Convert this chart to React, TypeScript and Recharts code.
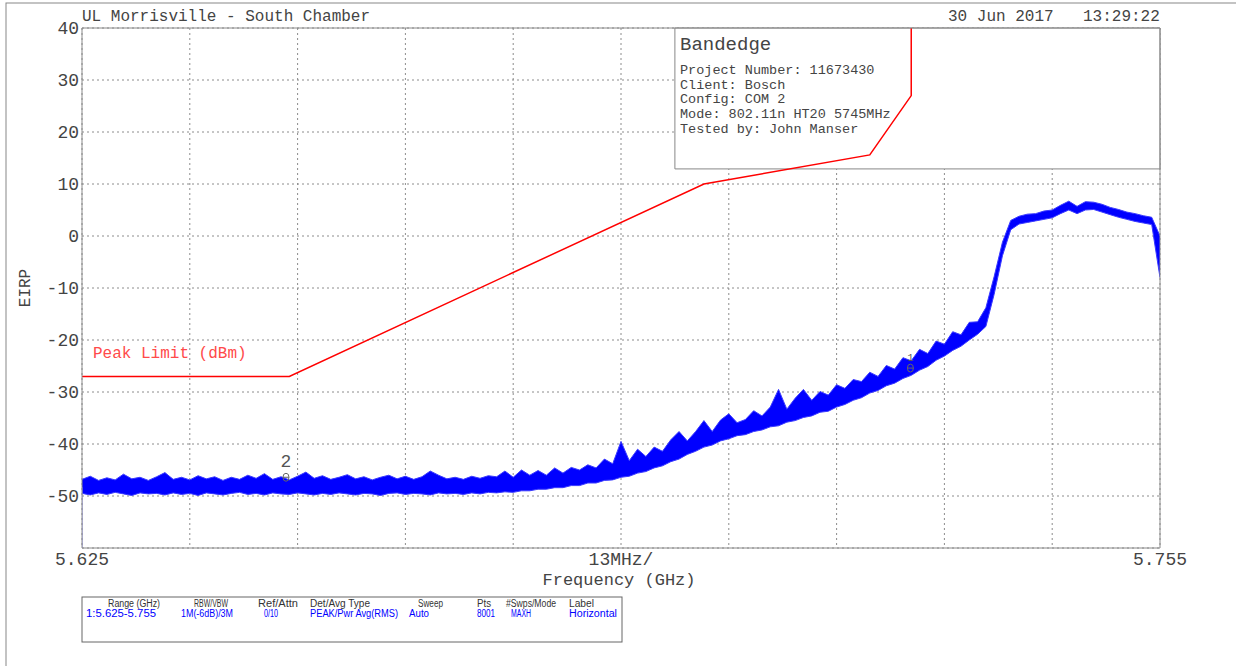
import React from "react";
import {
  ComposedChart,
  Area,
  Line,
  XAxis,
  YAxis,
  CartesianGrid,
  ReferenceArea,
  ReferenceDot,
} from "recharts";

// sweep points, 1 MHz apart
const START_GHZ = 5.625;
const STEP_GHZ = 0.001;

// upper / lower edge of the noisy trace (dBm)
const traceHigh = [
  -46.8, -46.2, -47.0, -46.5, -46.9, -45.8, -46.7, -46.4, -47.0, -46.3,
  -45.5, -46.8, -46.4, -46.9, -46.1, -46.7, -46.3, -47.0, -46.4, -46.8,
  -46.0, -46.6, -45.7, -46.8, -46.3, -46.9, -46.2, -45.4, -46.6, -46.1,
  -46.8, -46.4, -45.9, -46.7, -46.3, -46.9, -46.4, -46.0, -46.7, -46.2,
  -46.8, -46.3, -45.2, -46.0, -46.7, -46.4, -46.8, -46.2, -46.6, -46.1,
  -46.3, -45.2, -46.4, -45.0, -46.0, -45.1, -46.0, -44.6, -45.6, -44.5,
  -45.0, -44.0, -44.6, -42.9, -43.8, -39.5, -43.2, -41.0, -42.4, -40.6,
  -41.4, -39.2, -37.6, -39.4, -37.6, -35.5, -37.6, -35.4, -34.2, -35.9,
  -35.3, -33.6, -34.6, -32.9, -29.5, -33.3, -31.2, -29.5, -31.6, -29.9,
  -30.6, -28.6, -29.3, -27.6, -28.0, -26.2, -27.0, -24.9, -25.6, -23.4,
  -24.0, -21.8, -22.6, -20.2, -20.8, -18.4, -19.0, -16.6, -16.5, -13.8,
  -7.8, -1.2,
  3.0, 3.8, 4.2, 4.3, 4.8, 5.0, 5.9, 6.7, 5.7, 6.6,
  6.5, 6.1, 5.5, 5.1, 4.6, 4.3, 3.9, 3.6, 0.0,
];

const traceLow = [
  -49.5, -49.8, -49.4, -49.7, -49.3, -49.6, -49.9, -49.4, -49.6, -49.5,
  -49.8, -49.4, -49.7, -49.5, -49.9, -49.4, -49.6, -49.8, -49.5, -49.3,
  -49.7, -49.5, -49.8, -49.4, -49.6, -49.7, -49.4, -49.6, -49.8, -49.5,
  -49.7, -49.4, -49.6, -49.8, -49.5, -49.6, -49.9, -49.5, -49.4, -49.7,
  -49.5, -49.6, -49.8, -49.4, -49.6, -49.5, -49.7, -49.4, -49.6, -49.3,
  -49.4, -49.2, -49.3, -49.0, -49.0, -48.7, -48.7, -48.4, -48.4, -48.0,
  -48.0, -47.5, -47.5, -47.0, -46.9, -46.4, -46.2, -45.6, -45.3, -44.6,
  -44.2, -43.4, -42.9, -42.0, -41.4, -40.6, -40.2, -39.4, -39.0, -38.4,
  -38.2, -37.6, -37.3, -36.7, -36.5, -35.8, -35.5, -34.9, -34.6, -33.9,
  -33.7, -32.9, -32.4, -31.6, -31.1, -30.2, -29.7, -28.8, -28.3, -27.4,
  -26.8, -25.8, -25.1, -23.9, -23.1, -22.0, -21.2, -20.0, -18.9, -17.4,
  -11.2, -3.8,
  1.2, 2.3, 2.6, 2.9, 3.2, 3.5, 4.3, 5.0, 4.3, 5.0,
  5.1, 4.6, 4.1, 3.6, 3.2, 2.8, 2.5, 2.2, -8.0,
];

// first sample rises from the floor
const edgeLevels = [-60, -48.3];

// Peak limit mask
const limitFreq = [5.625, 5.65, 5.7, 5.72, 5.725, 5.725];
const limitLevel = [-27, -27, 10, 15.6, 27, 40];

const xTicks = [5.625, 5.638, 5.651, 5.664, 5.677, 5.69, 5.703, 5.716, 5.729, 5.742, 5.755];
const yTicks = [-60, -50, -40, -30, -20, -10, 0, 10, 20, 30, 40];

const infoLines = [
  "Project Number: 11673430",
  "Client: Bosch",
  "Config: COM 2",
  "Mode: 802.11n HT20 5745MHz",
  "Tested by: John Manser",
];

const tableHeaders = ["Range (GHz)", "RBW/VBW", "Ref/Attn", "Det/Avg Type", "Sweep", "Pts", "#Swps/Mode", "Label"];
const tableValues = ["1:5.625-5.755", "1M(-6dB)/3M", "0/10", "PEAK/Pwr Avg(RMS)", "Auto", "8001", "MAXH", "Horizontal"];
const headerX = [108, 194, 258, 310, 418, 477, 506, 569];
const headerW = [52, 34, 40, 60, 25, 14, 50, 25];
const valueX = [86, 181, 264, 310, 409, 477, 511, 569];
const valueW = [70, 52, 14, 88, 20, 18, 20, 48];

const trace = traceHigh.map((hi, i) => ({
  f: +(START_GHZ + i * STEP_GHZ).toFixed(3),
  band: [traceLow[i], hi],
}));
const edge = edgeLevels.map((v) => ({ f: START_GHZ, v }));
const limit = limitFreq.map((f, i) => ({ f, v: limitLevel[i] }));

const MONO = '"Liberation Mono", "DejaVu Sans Mono", monospace';
const NARROW = '"Liberation Sans Narrow", "Liberation Sans", Arial, sans-serif';
const TXT = "#444";

const fmtX = (v: number) => {
  if (Math.abs(v - 5.625) < 1e-6) return "5.625";
  if (Math.abs(v - 5.69) < 1e-6) return "13MHz/";
  if (Math.abs(v - 5.755) < 1e-6) return "5.755";
  return "";
};
const fmtY = (v: number) => (v === -60 ? "" : String(v));

const MarkerGlyph = (props: any) => {
  const { cx, cy } = props;
  return (
    <g>
      <ellipse cx={cx} cy={cy} rx={3} ry={4} fill="none" stroke="#666" strokeWidth={1} />
      <line x1={cx - 3} y1={cy} x2={cx + 3} y2={cy} stroke="#666" strokeWidth={1} />
    </g>
  );
};

export default function App() {
  return (
    <div style={{ position: "fixed", left: 0, top: 0, width: 1236, height: 666, background: "#fff" }}>
      <ComposedChart
        width={1236}
        height={666}
        data={trace}
        margin={{ top: 28, right: 76, bottom: 88, left: 22 }}
      >
        <CartesianGrid stroke="#8c8c8c" strokeDasharray="2 3" />
        <XAxis
          type="number"
          dataKey="f"
          domain={[5.625, 5.755]}
          ticks={xTicks}
          interval={0}
          tickFormatter={fmtX}
          tickLine={false}
          axisLine={false}
          tickSize={0}
          tickMargin={4}
          height={30}
          allowDataOverflow
          tick={{ fill: TXT, fontSize: 18, fontFamily: MONO }}
        />
        <YAxis
          type="number"
          domain={[-60, 40]}
          ticks={yTicks}
          interval={0}
          tickFormatter={fmtY}
          tickLine={false}
          axisLine={false}
          tickSize={0}
          tickMargin={3}
          width={60}
          allowDataOverflow
          tick={{ fill: TXT, fontSize: 18, fontFamily: MONO }}
        />
        <ReferenceArea
          x1={5.6965}
          x2={5.755}
          y1={12.9}
          y2={40}
          fill="#fff"
          fillOpacity={1}
          stroke="#888"
          zIndex={50}
        />
        <Area
          dataKey="band"
          type="linear"
          stroke="#3a3aff"
          strokeWidth={1}
          fill="#0000ff"
          fillOpacity={1}
          dot={false}
          activeDot={false}
          isAnimationActive={false}
          zIndex={400}
        />
        <Line
          data={edge}
          dataKey="v"
          stroke="#8a8aff"
          strokeWidth={1}
          dot={false}
          activeDot={false}
          isAnimationActive={false}
          zIndex={400}
        />
        <Line
          data={limit}
          dataKey="v"
          stroke="#ff0000"
          strokeWidth={1.5}
          dot={false}
          activeDot={false}
          isAnimationActive={false}
          zIndex={450}
        />
        <ReferenceDot
          x={5.6496}
          y={-46.4}
          r={4}
          shape={MarkerGlyph}
          label={{ value: "2", position: "top", offset: 6, fill: "#555", fontSize: 18, fontFamily: MONO }}
          zIndex={500}
        />
        <ReferenceDot
          x={5.7249}
          y={-25.4}
          r={3}
          shape={MarkerGlyph}
          label={{ value: "1", position: "top", offset: 4, fill: "#555", fontSize: 10, fontFamily: MONO }}
          zIndex={500}
        />
        <ReferenceArea
          x1={5.625}
          x2={5.755}
          y1={-60}
          y2={40}
          fill="none"
          fillOpacity={0}
          stroke="#8a8a8a"
          zIndex={600}
        />
      </ComposedChart>

      <svg
        width={1236}
        height={666}
        style={{ position: "absolute", left: 0, top: 0, pointerEvents: "none" }}
      >
        <rect x={6} y={3} width={1300} height={700} fill="none" stroke="#888" strokeWidth={1} />
        <text x={82} y={21} fontFamily={MONO} fontSize={16} fill={TXT}>
          UL Morrisville - South Chamber
        </text>
        <text x={948} y={21} fontFamily={MONO} fontSize={16} fill={TXT}>
          30 Jun 2017
        </text>
        <text x={1083} y={21} fontFamily={MONO} fontSize={16} fill={TXT}>
          13:29:22
        </text>
        <text
          x={26}
          y={288}
          fontFamily={MONO}
          fontSize={16}
          fill={TXT}
          textAnchor="middle"
          dominantBaseline="central"
          transform="rotate(-90 26 288)"
        >
          EIRP
        </text>
        <text x={619} y={585} fontFamily={MONO} fontSize={17} fill={TXT} textAnchor="middle">
          Frequency (GHz)
        </text>
        <text x={93} y={358} fontFamily={MONO} fontSize={16} fill="#ff4a4a">
          Peak Limit (dBm)
        </text>

        <text x={680} y={50} fontFamily={MONO} fontSize={19} fill={TXT}>
          Bandedge
        </text>
        {infoLines.map((t, i) => (
          <text key={t} x={680} y={74 + i * 14.7} fontFamily={MONO} fontSize={13.5} fill={TXT}>
            {t}
          </text>
        ))}

        <rect x={82} y={597} width={540} height={45} fill="none" stroke="#666" strokeWidth={1} />
        {tableHeaders.map((t, i) => (
          <text
            key={t}
            x={headerX[i]}
            y={607}
            fontFamily={NARROW}
            fontSize={10}
            fill="#333"
            textLength={headerW[i]}
            lengthAdjust="spacingAndGlyphs"
          >
            {t}
          </text>
        ))}
        {tableValues.map((t, i) => (
          <text
            key={t}
            x={valueX[i]}
            y={617}
            fontFamily={NARROW}
            fontSize={10}
            fill="#0000ff"
            textLength={valueW[i]}
            lengthAdjust="spacingAndGlyphs"
          >
            {t}
          </text>
        ))}
      </svg>
    </div>
  );
}
